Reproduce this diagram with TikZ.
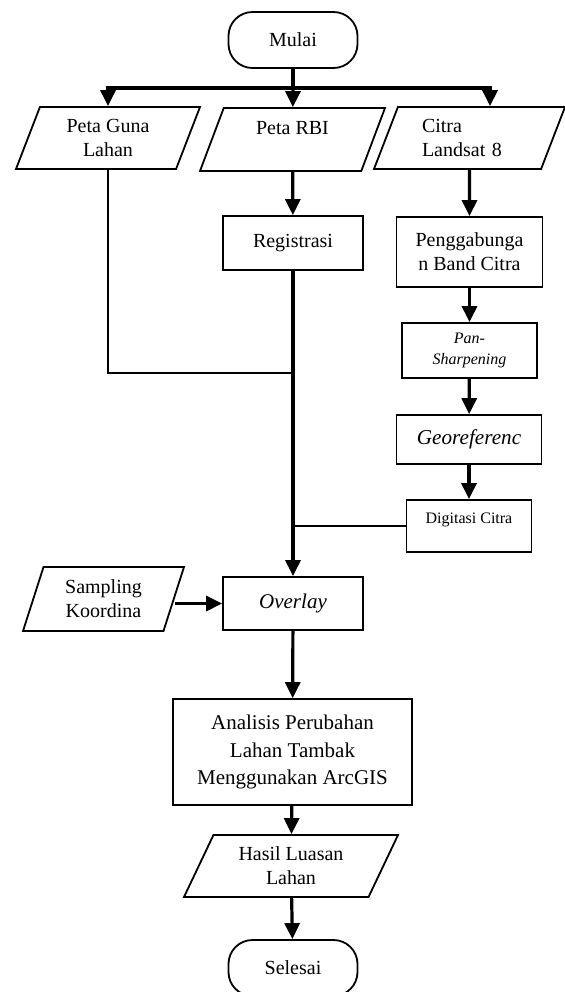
\documentclass[tikz,border=0pt]{standalone}
\usepackage{fontspec}
\setmainfont{Liberation Serif}
\usetikzlibrary{arrows.meta,shapes.geometric}

\begin{document}
\begin{tikzpicture}[x=0.5pt, y=-0.5pt, font=\fontsize{10}{12}\selectfont, term/.style={draw, line width=0.9pt, rounded corners=12pt, minimum width=64.5pt, minimum height=28pt}, proc/.style={draw, line width=0.9pt, align=center}, data/.style={draw, line width=0.9pt, trapezium, trapezium left angle=60, trapezium right angle=120, trapezium stretches body, align=center, inner sep=1pt}, arr/.style={-{Triangle[length=8pt,width=7.5pt]}, line width=1.6pt}, link/.style={line width=1pt}]
\useasboundingbox (0,0) rectangle (565,992);
\node[term] (mulai) at (293,40) {Mulai};
\node[data, minimum width=92pt, minimum height=31pt] (guna) at (108,138) {Peta Guna\\Lahan};
\node[data, minimum width=92.5pt, minimum height=31.5pt] (rbi) at (292.5,139.5) {Peta RBI\\\mbox{}};
\node[data, minimum width=95.5pt, minimum height=31pt, text width=47.5pt, align=left] (citra) at (469.5,138) {Citra\\Landsat 8};
\node[proc, minimum width=70pt, minimum height=27pt] (reg) at (293,243) {Registrasi};
\node[proc, minimum width=73pt, minimum height=35pt] (gab) at (469.5,252) {Penggabunga\\n Band Citra};
\node[proc, minimum width=67.5pt, minimum height=27.5pt, font=\fontsize{8}{10.5}\selectfont\itshape] (pan) at (469.5,350.5) {Pan-\\Sharpening};
\node[proc, minimum width=72.5pt, minimum height=24.5pt, font=\fontsize{10.6}{12.5}\selectfont\itshape] (geo) at (469,439.5) {Georeferenc};
\node[proc, minimum width=62.5pt, minimum height=26pt, font=\fontsize{8}{10}\selectfont] (dig) at (469,526) {Digitasi Citra\\[-2pt]\mbox{}};
\node[data, trapezium left angle=64, trapezium right angle=116, minimum width=80.5pt, minimum height=32pt] (samp) at (103.5,599) {Sampling\\Koordina};
\node[proc, minimum width=70pt, minimum height=26.5pt, font=\fontsize{10.5}{12.5}\selectfont\itshape] (ovl) at (293,603.5) {Overlay};
\node[proc, minimum width=119.5pt, minimum height=53pt, font=\fontsize{10.5}{13.75}\selectfont] (ana) at (292.5,752) {Analisis Perubahan\\Lahan Tambak\\Menggunakan ArcGIS};
\node[data, trapezium left angle=55, trapezium right angle=125, minimum width=107pt, minimum height=31pt] (hasil) at (291,866) {Hasil Luasan\\Lahan};
\node[term] (selesai) at (293,968) {Selesai};
\coordinate (bus) at (293,88); \coordinate (join) at (293,373); \coordinate (join2) at (293,526);
\draw[line width=1.6pt] (mulai) -- (bus);
\draw[arr] (bus) -| (guna); \draw[arr] (bus) -- (rbi); \draw[arr] (bus) -| ([xshift=10.25pt]citra.north);
\draw[link] (guna) |- (join);
\draw[arr] (rbi) -- (reg); \draw[arr] (reg) -- (ovl);
\draw[arr] (citra) -- (gab); \draw[arr] (gab) -- (pan); \draw[arr] (pan) -- (geo); \draw[arr] (geo) -- (dig);
\draw[link, line width=1.3pt] (dig) -- (join2);
\draw[arr] (samp.east |- ovl.west) -- (ovl);
\draw[arr] (ovl) -- (ana); \draw[arr] (ana) -- (hasil); \draw[arr] (hasil) -- (selesai);
\end{tikzpicture}
\end{document}
